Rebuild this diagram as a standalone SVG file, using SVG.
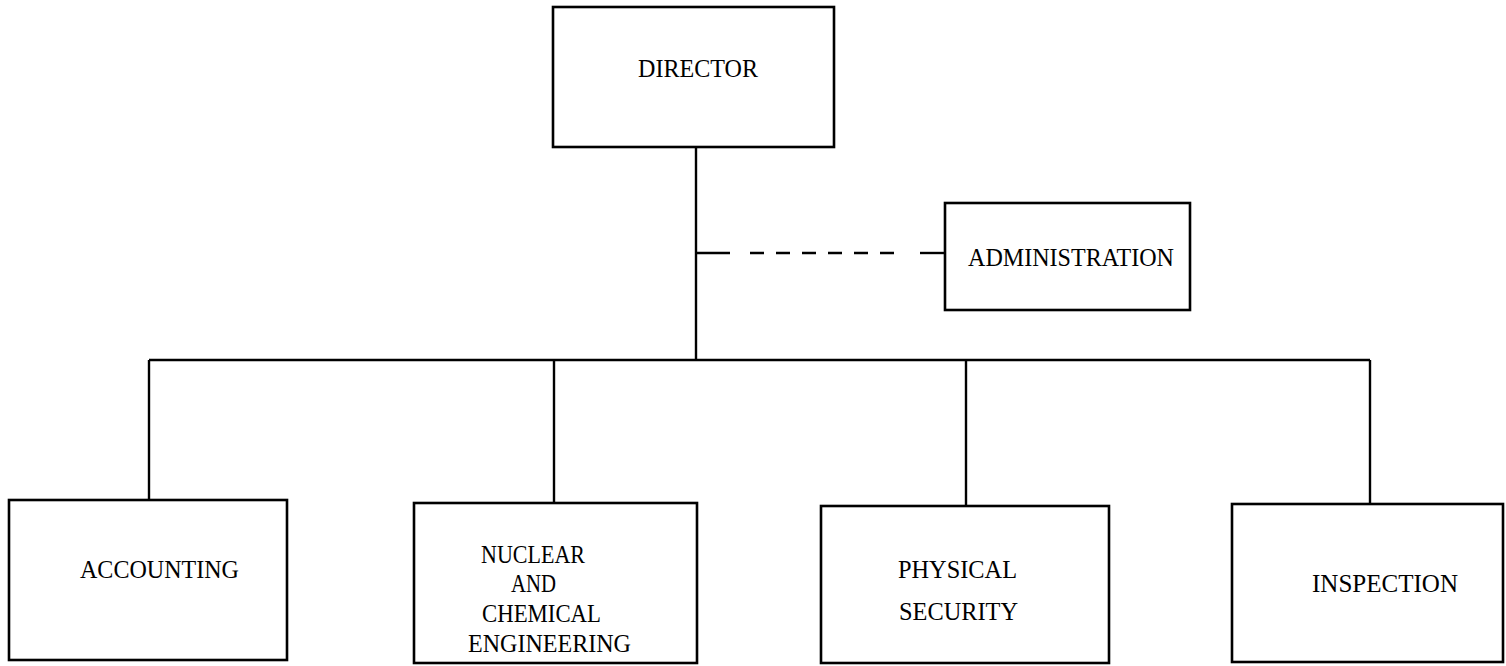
<svg xmlns="http://www.w3.org/2000/svg" width="1506" height="666" viewBox="0 0 1506 666">
<style>
.box{fill:#fff;stroke:#000;stroke-width:2.6}
.ln{fill:none;stroke:#000;stroke-width:2.4}
.dash{fill:none;stroke:#000;stroke-width:2.4;stroke-dasharray:14 12}
text{font-family:"Liberation Serif","DejaVu Serif",serif;font-size:25px;fill:#000}
</style>
<rect width="1506" height="666" fill="#fff"/>
<g id="connectors">
<line class="ln" x1="696" y1="147" x2="696" y2="360"/>
<line class="ln" x1="149" y1="360" x2="1370" y2="360"/>
<line class="ln" x1="149" y1="360" x2="149" y2="500"/>
<line class="ln" x1="554" y1="360" x2="554" y2="503"/>
<line class="ln" x1="966" y1="360" x2="966" y2="506"/>
<line class="ln" x1="1370" y1="360" x2="1370" y2="504"/>
<line class="ln" x1="696" y1="253" x2="730" y2="253"/>
<line class="dash" x1="750" y1="253" x2="896" y2="253"/>
<line class="ln" x1="920" y1="253" x2="945" y2="253"/>
</g>
<g id="director">
<rect class="box" x="553" y="7" width="281" height="140"/>
<text x="638" y="77" textLength="120" lengthAdjust="spacingAndGlyphs">DIRECTOR</text>
</g>
<g id="administration">
<rect class="box" x="945" y="203" width="245" height="107"/>
<text x="968" y="266" textLength="206" lengthAdjust="spacingAndGlyphs">ADMINISTRATION</text>
</g>
<g id="accounting">
<rect class="box" x="9" y="500" width="278" height="160"/>
<text x="80" y="578" textLength="159" lengthAdjust="spacingAndGlyphs">ACCOUNTING</text>
</g>
<g id="nuclear">
<rect class="box" x="414" y="503" width="283" height="160"/>
<text x="481" y="563" textLength="104" lengthAdjust="spacingAndGlyphs">NUCLEAR</text>
<text x="511" y="592" textLength="45" lengthAdjust="spacingAndGlyphs">AND</text>
<text x="482" y="622" textLength="119" lengthAdjust="spacingAndGlyphs">CHEMICAL</text>
<text x="468" y="652" textLength="163" lengthAdjust="spacingAndGlyphs">ENGINEERING</text>
</g>
<g id="physical-security">
<rect class="box" x="821" y="506" width="288" height="157"/>
<text x="898" y="578" textLength="119" lengthAdjust="spacingAndGlyphs">PHYSICAL</text>
<text x="899" y="620" textLength="119" lengthAdjust="spacingAndGlyphs">SECURITY</text>
</g>
<g id="inspection">
<rect class="box" x="1232" y="504" width="271" height="158"/>
<text x="1312" y="592" textLength="146" lengthAdjust="spacingAndGlyphs">INSPECTION</text>
</g>
</svg>
